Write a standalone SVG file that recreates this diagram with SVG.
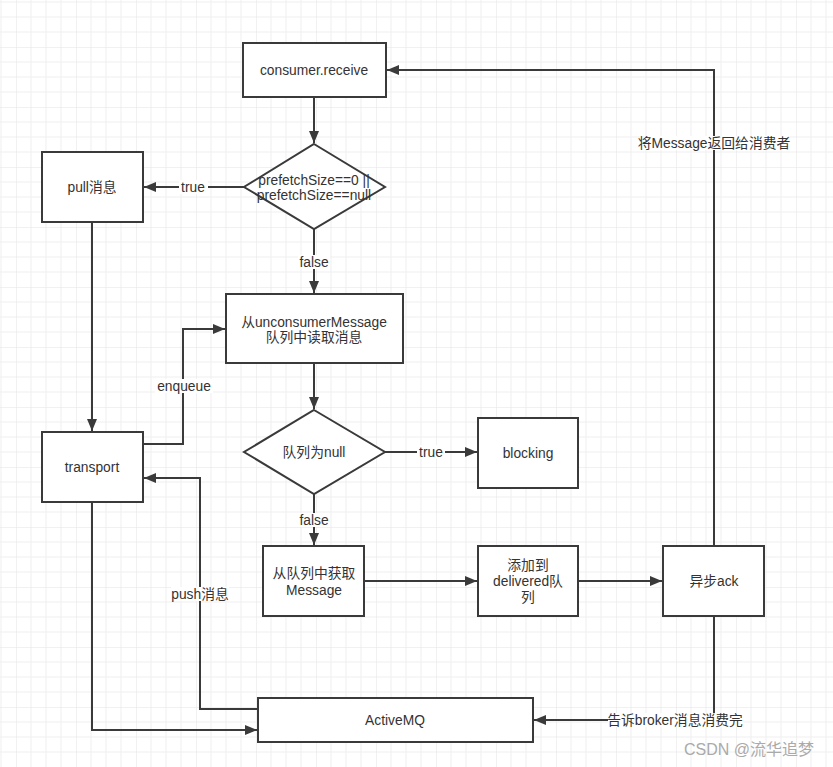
<svg xmlns="http://www.w3.org/2000/svg" width="833" height="767" viewBox="0 0 833 767">
<defs>
<pattern id="grid" patternUnits="userSpaceOnUse" x="16" y="47" width="60" height="60">
<path d="M15 0V60M30 0V60M45 0V60M0 15H60M0 30H60M0 45H60" stroke="#efefef" stroke-width="1" fill="none"/>
<path d="M0 0V60M0 0H60" stroke="#e3e3e3" stroke-width="1" fill="none"/>
</pattern>
<marker id="arr" viewBox="0 0 12 10" refX="12" refY="5" markerWidth="12" markerHeight="10" markerUnits="userSpaceOnUse" orient="auto">
<path d="M0 0L12 5L0 10z" fill="#3a3a3a"/>
</marker>
</defs>
<style>
.box{fill:#fff;stroke:#3a3a3a;stroke-width:2}
.t{font-family:"Liberation Sans","Noto Sans CJK SC",sans-serif;font-size:13.8px;fill:#333;text-anchor:middle;dominant-baseline:central}
.c{fill:none;stroke:#3a3a3a;stroke-width:2}
.lb{fill:#fff}
</style>
<rect width="833" height="767" fill="#fff"/>
<rect width="833" height="767" fill="url(#grid)"/>

<g id="connectors">
<path class="c" d="M314 97V143" marker-end="url(#arr)"/>
<path class="c" d="M244 187H144" marker-end="url(#arr)"/>
<path class="c" d="M314 229V293" marker-end="url(#arr)"/>
<path class="c" d="M92 222V431" marker-end="url(#arr)"/>
<path class="c" d="M143 444H183V329H225" marker-end="url(#arr)"/>
<path class="c" d="M314 363V409" marker-end="url(#arr)"/>
<path class="c" d="M385 452H477" marker-end="url(#arr)"/>
<path class="c" d="M314 494V545" marker-end="url(#arr)"/>
<path class="c" d="M364 581H477" marker-end="url(#arr)"/>
<path class="c" d="M578 581H662" marker-end="url(#arr)"/>
<path class="c" d="M714 546V70H387" marker-end="url(#arr)"/>
<path class="c" d="M714 616V720H534" marker-end="url(#arr)"/>
<path class="c" d="M258 709H200V478H144" marker-end="url(#arr)"/>
<path class="c" d="M92 502V730H257" marker-end="url(#arr)"/>
<g id="labels">
<rect class="lb" x="179" y="180" width="29" height="14"/><text class="t" x="193" y="187">true</text>
<rect class="lb" x="298" y="255" width="32" height="14"/><text class="t" x="314" y="262">false</text>
<rect class="lb" x="155" y="379" width="58" height="14"/><text class="t" x="184" y="386">enqueue</text>
<rect class="lb" x="417" y="445" width="28" height="14"/><text class="t" x="431" y="452">true</text>
<rect class="lb" x="298" y="513" width="32" height="14"/><text class="t" x="314" y="520">false</text>
<rect class="lb" x="171" y="587" width="58" height="14"/><text class="t" x="200" y="594">push消息</text>
<rect class="lb" x="640" y="136" width="148" height="14"/><text class="t" x="714" y="143">将Message返回给消费者</text>
<rect class="lb" x="608" y="713" width="135" height="14"/><text class="t" x="675" y="720">告诉broker消息消费完</text>
</g>
</g>

<g id="consumer-receive"><rect class="box" x="243" y="43" width="143" height="54"/><text class="t" x="314" y="70">consumer.receive</text></g>
<g id="prefetch-check"><path class="box" d="M314 144L385 187L314 229L244 187z"/><text class="t" x="314" y="180">prefetchSize==0 ||</text><text class="t" x="314" y="195">prefetchSize==null</text></g>
<g id="pull"><rect class="box" x="42" y="152" width="101" height="70"/><text class="t" x="92" y="187">pull消息</text></g>
<g id="read-unconsumed"><rect class="box" x="226" y="294" width="177" height="69"/><text class="t" x="314" y="322">从unconsumerMessage</text><text class="t" x="314" y="337">队列中读取消息</text></g>
<g id="transport"><rect class="box" x="42" y="432" width="101" height="70"/><text class="t" x="92" y="467">transport</text></g>
<g id="queue-null"><path class="box" d="M314 410L385 452L314 494L244 452z"/><text class="t" x="314" y="452">队列为null</text></g>
<g id="blocking"><rect class="box" x="478" y="418" width="100" height="70"/><text class="t" x="528" y="453">blocking</text></g>
<g id="get-message"><rect class="box" x="263" y="546" width="101" height="70"/><text class="t" x="314" y="573">从队列中获取</text><text class="t" x="314" y="590">Message</text></g>
<g id="add-delivered"><rect class="box" x="478" y="546" width="100" height="70"/><text class="t" x="528" y="565">添加到</text><text class="t" x="528" y="581">delivered队</text><text class="t" x="528" y="597">列</text></g>
<g id="async-ack"><rect class="box" x="663" y="546" width="101" height="70"/><text class="t" x="714" y="581">异步ack</text></g>
<g id="activemq"><rect class="box" x="258" y="698" width="275" height="44"/><text class="t" x="395" y="720">ActiveMQ</text></g>
<text x="749" y="749" style="font-family:'Liberation Sans','Noto Sans CJK SC',sans-serif;font-size:16px;fill:#aaa;text-anchor:middle;dominant-baseline:central">CSDN @流华追梦</text>
</svg>
